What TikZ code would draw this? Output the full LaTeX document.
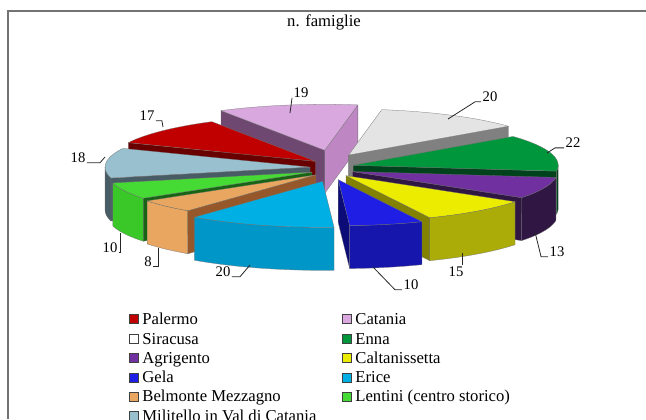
\documentclass[tikz,border=0pt]{standalone}
\usepackage{fontspec}
\setmainfont{Liberation Serif}
\usepackage{xcolor}
\usetikzlibrary{positioning}

\definecolor{cPalermo}{RGB}{192,0,0}
\definecolor{cPalermoS}{RGB}{105,0,0}
\definecolor{cCatania}{RGB}{216,168,222}
\definecolor{cCataniaS}{RGB}{110,72,112}
\definecolor{cCataniaE}{RGB}{190,135,196}
\definecolor{cSiracusa}{RGB}{228,228,228}
\definecolor{cSiracusaS}{RGB}{128,128,128}
\definecolor{cEnna}{RGB}{0,150,60}
\definecolor{cEnnaS}{RGB}{0,66,28}
\definecolor{cAgrigento}{RGB}{112,48,160}
\definecolor{cAgrigentoS}{RGB}{48,22,66}
\definecolor{cCalta}{RGB}{236,236,0}
\definecolor{cCaltaS}{RGB}{130,130,0}
\definecolor{cCaltaF}{RGB}{172,172,8}
\definecolor{cGela}{RGB}{30,30,228}
\definecolor{cGelaS}{RGB}{12,12,120}
\definecolor{cGelaF}{RGB}{22,22,172}
\definecolor{cErice}{RGB}{0,176,228}
\definecolor{cEriceF}{RGB}{0,150,200}
\definecolor{cBelmonte}{RGB}{232,166,96}
\definecolor{cBelmonteS}{RGB}{150,88,42}
\definecolor{cLentini}{RGB}{70,218,52}
\definecolor{cLentiniS}{RGB}{22,100,20}
\definecolor{cLentiniF}{RGB}{58,200,40}
\definecolor{cMilitello}{RGB}{152,192,206}
\definecolor{cMilitelloS}{RGB}{72,92,102}

% pie geometry (pixels)
\newcommand{\piecx}{332}
\newcommand{\piecy}{168}
\newcommand{\piex}{205}
\newcommand{\piey}{46}
\newcommand{\pieh}{43}
\newcommand{\pieex}{22}
\newcommand{\pieey}{10}

% #1 end angle, #2 start angle, #3 top, #4 start face, #5 end face, #6 outer face, #7 explode
\newcommand{\pieslice}[7]{%
  \pgfmathsetmacro{\smid}{(#1+#2)/2}%
  \pgfmathsetmacro{\sox}{\piecx+#7*\pieex*cos(\smid)}%
  \pgfmathsetmacro{\soy}{\piecy-#7*\pieey*sin(\smid)}%
  \pgfmathtruncatemacro{\svis}{cos(#2)<0}%
  \ifnum\svis=1
    \filldraw[slice, fill=#4] (\sox,\soy) -- ({\sox+\piex*cos(#2)},{\soy-\piey*sin(#2)}) -- ++(0,\pieh) -- (\sox,{\soy+\pieh}) -- cycle;
  \fi
  \pgfmathtruncatemacro{\evis}{cos(#1)>0}%
  \ifnum\evis=1
    \filldraw[slice, fill=#5] (\sox,\soy) -- ({\sox+\piex*cos(#1)},{\soy-\piey*sin(#1)}) -- ++(0,\pieh) -- (\sox,{\soy+\pieh}) -- cycle;
  \fi
  \pgfmathsetmacro{\slo}{max(#1,-180)}%
  \pgfmathsetmacro{\shi}{min(#2,0)}%
  \pgfmathtruncatemacro{\sfr}{\slo<\shi}%
  \ifnum\sfr=1
    \filldraw[slice, fill=#6] plot[domain=\slo:\shi, samples=25] ({\sox+\piex*cos(\x)},{\soy-\piey*sin(\x)})
      -- plot[domain=\slo:\shi, samples=25] ({\sox+\piex*cos(\slo+\shi-\x)},{\soy+\pieh-\piey*sin(\slo+\shi-\x)}) -- cycle;
  \fi
  \filldraw[slice, fill=#3] (\sox,\soy) -- plot[domain=#1:#2, samples=25] ({\sox+\piex*cos(\x)},{\soy-\piey*sin(\x)}) -- cycle;
}

\tikzset{
  slice/.style={draw=black!55, line width=0.2pt, line join=round},
  legbox/.style={draw=black!75, line width=0.4pt, inner sep=0pt, minimum size=6.8pt},
  legtext/.style={font=\fontsize{12.5}{14}\selectfont, inner sep=1pt, text height=8.5pt, text depth=1pt, anchor=west},
  datalabel/.style={font=\fontsize{11}{13}\selectfont, inner sep=1pt},
  leader/.style={draw=black!85, line width=0.6pt}
}

\begin{document}
\begin{tikzpicture}[x=0.75pt,y=0.75pt,yscale=-1,xscale=1]
\useasboundingbox (0,0) rectangle (646,419);

%Shape: Frame
\draw [color=black!55, line width=1.1pt] (8,419) -- (8,11) -- (646,11) ;

% Text Node
\node (title) at (324,22) [font=\fontsize{12.5}{14}\selectfont] {n. famiglie};

%Shape: Pie slices, back to front
\foreach \aend/\astart/\ctop/\cstart/\cend/\cfront/\expl in {
    80.7/120.4/cCatania/cCataniaS/cCataniaE/cCatania/1.8,
    38.8/80.7/cSiracusa/cSiracusaS/cSiracusaS/cSiracusaS/1.5,
    120.4/156/cPalermo/cPalermoS/cPalermoS/cPalermoS/1,
    -7.3/38.8/cEnna/cEnnaS/cEnnaS/cEnnaS/1,
    -204/-166.3/cMilitello/cMilitelloS/cMilitelloS/cMilitelloS/1,
    -34.5/-7.3/cAgrigento/cAgrigentoS/cAgrigentoS/cAgrigentoS/1,
    -166.3/-145.4/cLentini/cLentiniS/cLentiniS/cLentiniF/1,
    -145.4/-128.7/cBelmonte/cBelmonteS/cBelmonteS/cBelmonte/1,
    -65.9/-34.5/cCalta/cCaltaS/cCaltaS/cCaltaF/1,
    -128.7/-86.8/cErice/cEriceF/cEriceF/cEriceF/1.4,
    -86.8/-65.9/cGela/cGelaS/cGelaS/cGelaF/1.2}
  {\pieslice{\aend}{\astart}{\ctop}{\cstart}{\cend}{\cfront}{\expl}}

% Text Node
\node[datalabel] (l17) at (147,116) {17};
\node[datalabel] (l19) at (301,93) {19};
\node[datalabel] (l20s) at (490,97) {20};
\node[datalabel] (l22) at (573,143) {22};
\node[datalabel] (l13) at (557,252) {13};
\node[datalabel] (l15) at (456,272) {15};
\node[datalabel] (l10g) at (411,285) {10};
\node[datalabel] (l20e) at (223,272) {20};
\node[datalabel] (l8) at (148,262) {8};
\node[datalabel] (l10l) at (110,248) {10};
\node[datalabel] (l18) at (78,158) {18};

\coordinate (e17) at (163,127);
\coordinate (e19) at (290,113);
\coordinate (e20s) at (448,119);
\coordinate (e22) at (547,153);
\coordinate (e13) at (535,232);
\coordinate (e15) at (462,253);
\coordinate (e10g) at (373,267);
\coordinate (e20e) at (250,265);
\coordinate (e8) at (158,248);
\coordinate (e10l) at (120,233);
\coordinate (e18) at (105,157);

%Straight Lines
\draw[leader] (l17.base east) -- ++(6,0) -- (e17);
\draw[leader] (l19.base west) -- (e19);
\draw[leader] (l20s.base west) -- ++(-6,0) -- (e20s);
\draw[leader] (l22.base west) -- ++(-9,0) -- (e22);
\draw[leader] (l13.base west) -- ++(-7,0) -- (e13);
\draw[leader] (l15.north -| e15) -- (e15);
\draw[leader] (l10g.base west) -- ++(-7,0) -- (e10g);
\draw[leader] (l20e.base east) -- ++(8,0) -- (e20e);
\draw[leader] (l8.base east) -| (e8);
\draw[leader] (l10l.base east) -| (e10l);
\draw[leader] (l18.base east) -- ++(13,0) -- (e18);

% Legend
\foreach \key/\name/\col/\lx/\ly in {
    Palermo/Palermo/cPalermo/134/319,
    Catania/Catania/cCatania/347/319,
    Siracusa/Siracusa/white/134/339,
    Enna/Enna/cEnna/347/339,
    Agrigento/Agrigento/cAgrigento/134/358,
    Calta/Caltanissetta/cCalta/347/358,
    Gela/Gela/cGela/134/377.5,
    Erice/Erice/cErice/347/377.5,
    Belmonte/Belmonte Mezzagno/cBelmonte/134/396.5,
    Lentini/Lentini (centro storico)/cLentini/347/396.5,
    Militello/Militello in Val di Catania/cMilitello/134/416}
  {\node[legbox, fill=\col] (box\key) at (\lx,\ly) {};
   \node[legtext, right=1.5pt of box\key] (txt\key) {\name};}

\end{tikzpicture}
\end{document}
